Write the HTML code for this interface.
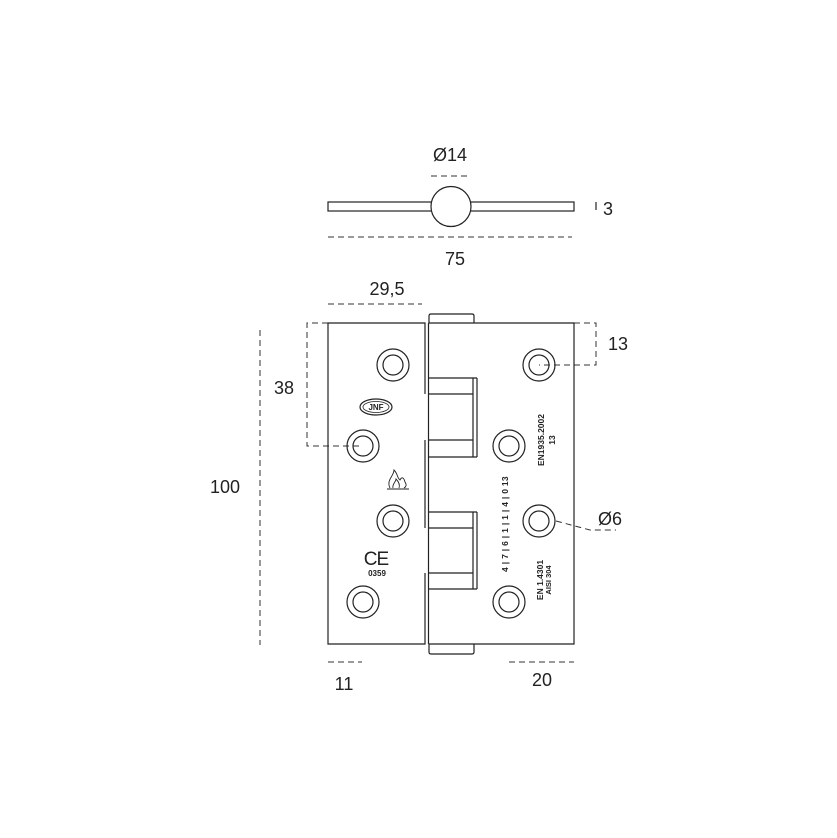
<!DOCTYPE html>
<html><head><meta charset="utf-8"><style>html,body{margin:0;padding:0;background:#fff}svg{display:block}</style></head>
<body>
<svg width="837" height="838" viewBox="0 0 837 838" xmlns="http://www.w3.org/2000/svg" font-family="Liberation Sans, DejaVu Sans, sans-serif">
<rect width="837" height="838" fill="#fff"/>
<g stroke="#222" stroke-width="1.2" fill="none">
<!-- top view -->
<rect x="328" y="202" width="246" height="9" fill="#fff"/>
<circle cx="451" cy="206.5" r="20" fill="#fff"/>
<line x1="596" y1="202" x2="596" y2="210"/>
</g>
<g stroke="#333" stroke-width="1" fill="none" stroke-dasharray="6,4">
<line x1="431" y1="176" x2="471" y2="176"/>
<line x1="328" y1="237" x2="572" y2="237"/>
<line x1="328" y1="304" x2="422" y2="304"/>
<polyline points="328,323 307,323 307,446 362,446"/>
<line x1="260" y1="330" x2="260" y2="645"/>
<polyline points="574,323 596,323 596,365 539,365"/>
<polyline points="556,521 590,530 616,530"/>
<line x1="328" y1="662" x2="362" y2="662"/>
<line x1="509" y1="662" x2="574" y2="662"/>
</g>
<g stroke="#222" stroke-width="1.2" fill="none">
<!-- tabs -->
<path d="M429,323 V316 Q429,314 431,314 H472 Q474,314 474,316 V323"/>
<path d="M429,644 V652 Q429,654 431,654 H472 Q474,654 474,652 V644"/>
<!-- left leaf -->
<polyline points="425,394 425,323 328,323 328,644 425,644 425,573"/>
<line x1="425" y1="440" x2="425" y2="528"/>
<!-- right leaf -->
<polyline points="429,323 574,323 574,644 429,644"/>
<line x1="428.5" y1="323" x2="428.5" y2="644"/>
<!-- knuckles -->
<line x1="429" y1="378" x2="477" y2="378"/>
<line x1="429" y1="394" x2="473" y2="394"/>
<line x1="429" y1="440" x2="473" y2="440"/>
<line x1="429" y1="457" x2="477" y2="457"/>
<line x1="473" y1="378" x2="473" y2="457"/>
<line x1="477" y1="378" x2="477" y2="457"/>
<line x1="429" y1="512" x2="477" y2="512"/>
<line x1="429" y1="528" x2="473" y2="528"/>
<line x1="429" y1="573" x2="473" y2="573"/>
<line x1="429" y1="589" x2="477" y2="589"/>
<line x1="473" y1="512" x2="473" y2="589"/>
<line x1="477" y1="512" x2="477" y2="589"/>
<!-- holes -->
<g>
<circle cx="393" cy="365" r="16"/><circle cx="393" cy="365" r="10"/>
<circle cx="363" cy="446" r="16"/><circle cx="363" cy="446" r="10"/>
<circle cx="393" cy="521" r="16"/><circle cx="393" cy="521" r="10"/>
<circle cx="363" cy="602" r="16"/><circle cx="363" cy="602" r="10"/>
<circle cx="539" cy="365" r="16"/><circle cx="539" cy="365" r="10"/>
<circle cx="509" cy="446" r="16"/><circle cx="509" cy="446" r="10"/>
<circle cx="539" cy="521" r="16"/><circle cx="539" cy="521" r="10"/>
<circle cx="509" cy="602" r="16"/><circle cx="509" cy="602" r="10"/>
</g>
<!-- logo -->
<ellipse cx="376" cy="407" rx="16" ry="8"/>
<ellipse cx="376" cy="407" rx="13" ry="5.5" stroke-width="0.8"/>
<!-- flame -->
<path d="M387,489 H409 M390,488 C386,480 394,476 394,470 C398,474 397,478 400,480 C402,476 404,478 405,482 C407,485 406,487 404,488 M393,488 C392,484 396,482 396,479 C399,482 400,485 399,488" stroke-width="0.9"/>
</g>
<text x="376" y="410" font-size="8" font-weight="bold" text-anchor="middle" fill="#222">JNF</text>
<text x="376" y="565" font-size="19" text-anchor="middle" fill="#222" letter-spacing="-1">CE</text>
<text x="377" y="576" font-size="8" font-weight="bold" text-anchor="middle" fill="#222">0359</text>
<g fill="#222" font-size="8.5" font-weight="bold" text-anchor="middle">
<text transform="translate(544,440) rotate(-90)">EN1935.2002</text>
<text transform="translate(555,440) rotate(-90)">13</text>
<text transform="translate(508,524) rotate(-90)" letter-spacing="0.3">4 | 7 | 6 | 1 | 1 | 4 | 0 13</text>
<text transform="translate(543,580) rotate(-90)">EN 1.4301</text>
<text transform="translate(551,580) rotate(-90)" font-size="7.5">AISI 304</text>
</g>
<g fill="#222" font-size="18" text-anchor="middle">
<text x="450" y="161">Ø14</text>
<text x="608" y="215">3</text>
<text x="455" y="265">75</text>
<text x="387" y="295">29,5</text>
<text x="284" y="394">38</text>
<text x="618" y="350">13</text>
<text x="225" y="493">100</text>
<text x="610" y="525">Ø6</text>
<text x="344" y="690">11</text>
<text x="542" y="686">20</text>
</g>
</svg>
</body></html>
